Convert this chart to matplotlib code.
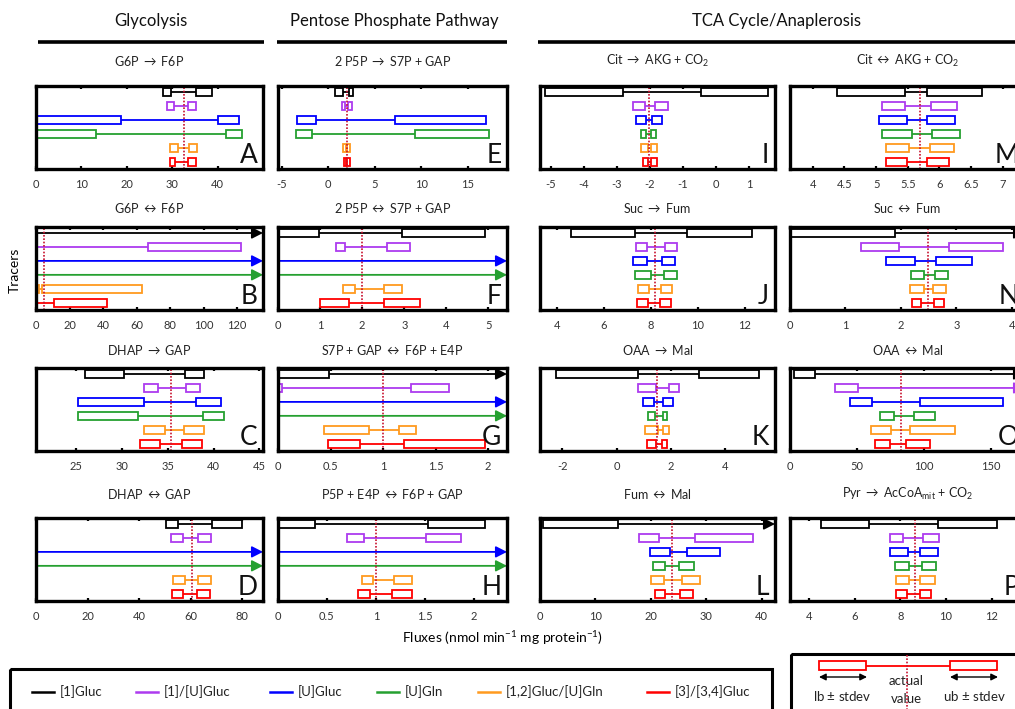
import numpy as np
import matplotlib
matplotlib.use('Agg')
import matplotlib.pyplot as plt
from matplotlib.patches import Rectangle
from matplotlib.ticker import FuncFormatter

plt.rcParams['font.family'] = ['Lato', 'DejaVu Sans']
plt.rcParams['mathtext.fontset'] = 'custom'
plt.rcParams['mathtext.rm'] = 'Lato'
plt.rcParams['mathtext.it'] = 'Lato:italic'
plt.rcParams['mathtext.bf'] = 'Lato:bold'

INF = np.inf

tracers = ['[1]Gluc', '[1]/[U]Gluc', '[U]Gluc', '[U]Gln', '[1,2]Gluc/[U]Gln', '[3]/[3,4]Gluc']
colors = ['black', '#AD3BEF', '#0000FF', '#25A030', '#FF9A1F', '#FF0000']

# rows: [lb-stdev, lb+stdev, ub-stdev, ub+stdev], INF = unbounded upper flux
# Glycolysis
A_bounds = [[28.0, 29.8, 35.3, 38.8], [28.9, 30.4, 33.5, 35.2], [-1, 18.8, 40.1, 44.7],
            [-1, 13.3, 41.8, 45.3], [29.5, 31.3, 33.6, 35.5], [29.5, 30.6, 33.5, 35.2]]
A_actual = 32.6
B_bounds = [[0, 0.3, INF, INF], [0, 0.5, 67.0, 122.6], [0, 0.5, INF, INF],
            [0, 0.5, INF, INF], [0, 2.0, 3.5, 63.1], [0, 0.6, 10.9, 42.6]]
B_actual = 4.5
C_bounds = [[26.0, 30.2, 36.9, 38.9], [32.4, 33.9, 37.0, 38.5], [25.2, 32.4, 38.1, 40.8],
            [25.2, 31.7, 38.8, 41.1], [32.4, 34.7, 36.8, 39.0], [32.0, 34.2, 36.6, 38.7]]
C_actual = 35.4
D_bounds = [[50.3, 55.0, 68.2, 79.8], [52.4, 56.9, 62.9, 67.9], [0, 0.5, INF, INF],
            [0, 0.5, INF, INF], [53.3, 57.8, 62.9, 67.8], [52.7, 56.9, 62.6, 67.5]]
D_actual = 60.5
# Pentose phosphate pathway
E_bounds = [[0.75, 1.55, 2.2, 2.7], [1.5, 1.85, 2.1, 2.5], [-3.4, -1.3, 7.2, 16.9],
            [-3.5, -1.7, 9.3, 17.3], [1.6, 1.9, 2.0, 2.3], [1.7, 1.95, 2.05, 2.3]]
E_actual = 2.0
F_bounds = [[0, 0.97, 2.95, 4.92], [1.37, 1.59, 2.58, 3.13], [0, 0.02, INF, INF],
            [0, 0.02, INF, INF], [1.55, 1.83, 2.51, 2.94], [0.99, 1.69, 2.51, 3.38]]
F_actual = 2.0
G_bounds = [[0, 0.49, INF, INF], [0, 0.04, 1.27, 1.63], [0, 0.01, INF, INF],
            [0, 0.01, INF, INF], [0.44, 0.87, 1.15, 1.31], [0.48, 0.78, 1.2, 1.97]]
G_actual = 1.0
H_bounds = [[0, 0.38, 1.53, 2.12], [0.70, 0.88, 1.51, 1.87], [0, 0.01, INF, INF],
            [0, 0.01, INF, INF], [0.86, 0.97, 1.19, 1.37], [0.82, 0.94, 1.16, 1.37]]
H_actual = 1.0
# TCA cycle / anaplerosis
I_bounds = [[-5.18, -2.81, -0.46, 1.58], [-2.52, -2.15, -1.83, -1.46], [-2.42, -2.1, -1.93, -1.62],
            [-2.27, -2.1, -1.96, -1.8], [-2.26, -2.05, -1.96, -1.78], [-2.2, -2.05, -1.95, -1.78]]
I_actual = -2.02
J_bounds = [[4.6, 7.32, 9.56, 12.3], [7.38, 7.82, 8.59, 9.12], [7.26, 7.82, 8.48, 9.03],
            [7.32, 8.0, 8.56, 9.12], [7.44, 7.91, 8.42, 8.91], [7.4, 7.88, 8.4, 8.84]]
J_actual = 8.19
K_bounds = [[-2.23, 0.77, 3.04, 5.24], [0.77, 1.43, 1.93, 2.3], [0.98, 1.37, 1.69, 2.06],
            [1.16, 1.41, 1.69, 1.84], [1.04, 1.53, 1.72, 1.93], [1.13, 1.45, 1.65, 1.84]]
K_actual = 1.47
L_bounds = [[0.6, 14.1, INF, INF], [17.9, 21.5, 27.9, 38.5], [19.9, 23.4, 26.6, 32.4],
            [20.3, 22.6, 25.1, 27.7], [20.0, 22.4, 25.6, 28.8], [20.8, 22.6, 25.3, 27.6]]
L_actual = 23.9
M_bounds = [[4.38, 5.46, 5.81, 6.67], [5.09, 5.46, 5.86, 6.27], [5.04, 5.48, 5.81, 6.25],
            [5.1, 5.57, 5.88, 6.33], [5.16, 5.52, 5.85, 6.23], [5.16, 5.48, 5.81, 6.15]]
M_actual = 5.69
N_bounds = [[0, 1.89, INF, INF], [1.28, 1.96, 2.87, 3.85], [1.74, 2.26, 2.63, 3.29],
            [2.19, 2.41, 2.61, 2.85], [2.17, 2.41, 2.58, 2.82], [2.2, 2.37, 2.59, 2.78]]
N_actual = 2.49
O_bounds = [[3.2, 18.8, INF, INF], [34.0, 50.7, INF, INF], [45.0, 61.2, 97.5, 159.5],
            [67.7, 77.7, 92.5, 108.5], [60.7, 75.7, 89.5, 123.3], [63.5, 74.5, 87.0, 105.0]]
O_actual = 82.7
P_bounds = [[4.52, 6.6, 9.65, 12.22], [7.55, 8.13, 9.0, 9.7], [7.55, 8.33, 8.87, 9.65],
            [7.74, 8.36, 8.96, 9.55], [7.79, 8.37, 8.87, 9.5], [7.82, 8.29, 8.87, 9.35]]
P_actual = 8.63

titles = {
    'A': 'G6P $\\rightarrow$ F6P', 'B': 'G6P $\\leftrightarrow$ F6P',
    'C': 'DHAP $\\rightarrow$ GAP', 'D': 'DHAP $\\leftrightarrow$ GAP',
    'E': '2 P5P $\\rightarrow$ S7P + GAP', 'F': '2 P5P $\\leftrightarrow$ S7P + GAP',
    'G': 'S7P + GAP $\\leftrightarrow$ F6P + E4P', 'H': 'P5P + E4P $\\leftrightarrow$ F6P + GAP',
    'I': 'Cit $\\rightarrow$ AKG + CO$_2$', 'J': 'Suc $\\rightarrow$ Fum',
    'K': 'OAA $\\rightarrow$ Mal', 'L': 'Fum $\\leftrightarrow$ Mal',
    'M': 'Cit $\\leftrightarrow$ AKG + CO$_2$', 'N': 'Suc $\\leftrightarrow$ Fum',
    'O': 'OAA $\\leftrightarrow$ Mal', 'P': 'Pyr $\\rightarrow$ AcCoA$_{\\rm mit}$ + CO$_2$',
}

# axis ranges and ticks
xlims = {'A': (0, 50), 'B': (0, 135.5), 'C': (20.6, 45.4), 'D': (0, 88.1),
         'E': (-5.4, 19.2), 'F': (0, 5.44), 'G': (0, 2.18), 'H': (0, 2.34),
         'I': (-5.32, 1.79), 'J': (3.27, 13.3), 'K': (-2.82, 5.82), 'L': (0, 42.4),
         'M': (3.64, 7.35), 'N': (0, 4.24), 'O': (0, 175.8), 'P': (3.15, 13.47)}
xticks = {'A': [0, 10, 20, 30, 40], 'B': [0, 20, 40, 60, 80, 100, 120],
          'C': [25, 30, 35, 40, 45], 'D': [0, 20, 40, 60, 80],
          'E': [-5, 0, 5, 10, 15], 'F': [0, 1, 2, 3, 4, 5],
          'G': [0, 0.5, 1, 1.5, 2], 'H': [0, 0.5, 1, 1.5, 2],
          'I': [-5, -4, -3, -2, -1, 0, 1], 'J': [4, 6, 8, 10, 12],
          'K': [-2, 0, 2, 4], 'L': [0, 10, 20, 30, 40],
          'M': [4, 4.5, 5, 5.5, 6, 6.5, 7], 'N': [0, 1, 2, 3, 4],
          'O': [0, 50, 100, 150], 'P': [4, 6, 8, 10, 12]}

bounds = {'A': A_bounds, 'B': B_bounds, 'C': C_bounds, 'D': D_bounds,
          'E': E_bounds, 'F': F_bounds, 'G': G_bounds, 'H': H_bounds,
          'I': I_bounds, 'J': J_bounds, 'K': K_bounds, 'L': L_bounds,
          'M': M_bounds, 'N': N_bounds, 'O': O_bounds, 'P': P_bounds}
actuals = {'A': A_actual, 'B': B_actual, 'C': C_actual, 'D': D_actual,
           'E': E_actual, 'F': F_actual, 'G': G_actual, 'H': H_actual,
           'I': I_actual, 'J': J_actual, 'K': K_actual, 'L': L_actual,
           'M': M_actual, 'N': N_actual, 'O': O_actual, 'P': P_actual}

W, H = 1015, 709
fig = plt.figure(figsize=(W / 100, H / 100), dpi=100)

col_left = [36, 278, 540, 790]
col_width = [227, 229, 235, 235]
row_top = [86, 227, 368, 518]
title_gap = [25, 19, 18, 24]   # px between title centre and panel top
panel_h = 83
layout = [['A', 'B', 'C', 'D'], ['E', 'F', 'G', 'H'], ['I', 'J', 'K', 'L'], ['M', 'N', 'O', 'P']]

box_h = 0.58


def draw_panel(ax, key, gap):
    x0, x1 = xlims[key]
    for i, (row, c) in enumerate(zip(bounds[key], colors)):
        lo1, hi1, lo2, hi2 = row
        ax.add_patch(Rectangle((lo1, i - box_h / 2), hi1 - lo1, box_h, facecolor='white',
                               edgecolor=c, lw=1.3, zorder=3))
        if np.isinf(lo2):
            ax.annotate('', xy=(x1, i), xytext=(hi1, i), annotation_clip=False,
                        arrowprops=dict(arrowstyle='-|>,head_length=0.55,head_width=0.28',
                                        color=c, lw=1.3, mutation_scale=12,
                                        shrinkA=0, shrinkB=0), zorder=2)
        else:
            ax.plot([hi1, lo2], [i, i], color=c, lw=1.3, zorder=2)
            ax.add_patch(Rectangle((lo2, i - box_h / 2), hi2 - lo2, box_h, facecolor='white',
                                   edgecolor=c, lw=1.3, zorder=3))
    ax.axvline(actuals[key], color='#C8102E', lw=1.2, ls=(0, (1, 1)), zorder=4)
    ax.set_xlim(x0, x1)
    ax.set_ylim(5.52, -0.43)
    ax.set_yticks([])
    ax.set_xticks(xticks[key])
    ax.xaxis.set_major_formatter(FuncFormatter(lambda v, p: '%g' % v))
    ax.tick_params(axis='x', direction='in', top=True, length=2.5, width=1.6,
                   pad=7, labelsize=8, labelcolor='#333333')
    for s in ax.spines.values():
        s.set_linewidth(2.4)
        s.set_zorder(6)
    ax.text(0.5, 1 + gap / panel_h, titles[key], transform=ax.transAxes, ha='center',
            va='center', fontsize=9, color='#222222')
    ax.text(0.975, 0.07, key, transform=ax.transAxes, ha='right', va='baseline',
            fontsize=19, color='#111111')


for ci in range(4):
    for ri in range(4):
        key = layout[ci][ri]
        rect = [col_left[ci] / W, 1 - (row_top[ri] + panel_h) / H,
                col_width[ci] / W, panel_h / H]
        ax = fig.add_axes(rect)
        draw_panel(ax, key, title_gap[ri])

# overlay in pixel coordinates for headers, labels and legends
ov = fig.add_axes([0, 0, 1, 1], zorder=-1)
ov.set_xlim(0, W)
ov.set_ylim(H, 0)
ov.axis('off')

headers = ['Glycolysis', 'Pentose Phosphate Pathway', 'TCA Cycle/Anaplerosis']
header_x = [151, 394, 777]
header_lines = [(38, 264), (277, 507), (538, 1015)]
for txt, hx, (l0, l1) in zip(headers, header_x, header_lines):
    ov.text(hx, 21, txt, ha='center', va='center', fontsize=12, color='#111111')
    ov.plot([l0, l1], [42, 42], color='black', lw=2.6, solid_capstyle='butt')

ov.text(15, 270, 'Tracers', rotation=90, ha='center', va='center', fontsize=10)
ov.text(503, 638, 'Fluxes (nmol min$^{-1}$ mg protein$^{-1}$)', ha='center', va='center',
        fontsize=10)

# tracer legend
ov.add_patch(Rectangle((10, 669), 762, 60, facecolor='none', edgecolor='black', lw=2.2))
leg_line_x = [32, 136, 270, 377, 478, 647]
for lx, name, c in zip(leg_line_x, tracers, colors):
    ov.plot([lx, lx + 22], [692, 692], color=c, lw=1.8)
    ov.text(lx + 28, 692, name, ha='left', va='center', fontsize=9.5, color='#222222')

# key legend
ov.add_patch(Rectangle((791, 654), 300, 80, facecolor='none', edgecolor='black', lw=2.2))
ov.add_patch(Rectangle((819, 661), 47, 9, facecolor='white', edgecolor='red', lw=1.3, zorder=3))
ov.add_patch(Rectangle((950, 661), 47, 9, facecolor='white', edgecolor='red', lw=1.3, zorder=3))
ov.plot([866, 950], [665.5, 665.5], color='red', lw=1.3, zorder=2)
ov.plot([907, 907], [655, 709], color='#C8102E', lw=1.2, ls=(0, (1, 1)), zorder=4)
for a0, a1 in [(819, 867), (950, 998)]:
    ov.annotate('', xy=(a1, 677), xytext=(a0, 677),
                arrowprops=dict(arrowstyle='<|-|>,head_length=0.4,head_width=0.2',
                                color='black', lw=1.0, mutation_scale=10,
                                shrinkA=0, shrinkB=0))
ov.text(842, 696, 'lb $\\pm$ stdev', ha='center', va='center', fontsize=9.5, color='#222222')
ov.text(974, 696, 'ub $\\pm$ stdev', ha='center', va='center', fontsize=9.5, color='#222222')
ov.text(906, 681, 'actual', ha='center', va='center', fontsize=9.5, color='#222222')
ov.text(906, 699, 'value', ha='center', va='center', fontsize=9.5, color='#222222')

fig.savefig('out.png', dpi=100)
